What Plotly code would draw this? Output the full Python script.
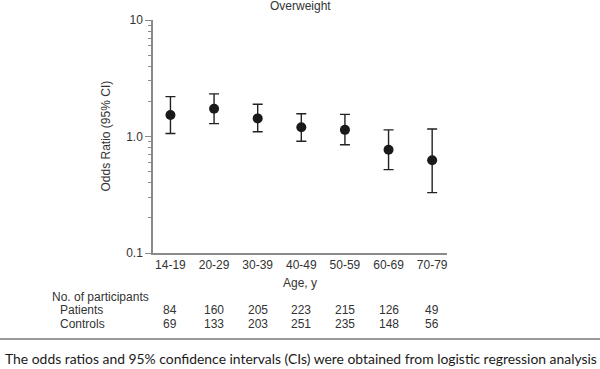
import plotly.graph_objects as go

categories = ["14-19", "20-29", "30-39", "40-49", "50-59", "60-69", "70-79"]
odds_ratio = [1.53, 1.73, 1.43, 1.20, 1.14, 0.77, 0.625]
ci_upper = [2.20, 2.32, 1.89, 1.57, 1.55, 1.14, 1.16]
ci_lower = [1.06, 1.29, 1.10, 0.91, 0.85, 0.52, 0.33]
patients = [84, 160, 205, 223, 215, 126, 49]
controls = [69, 133, 203, 251, 235, 148, 56]
ytick_vals = [0.1, 1, 10]
ytick_text = ["0.1", "1.0", "10"]
minor_vals = [0.2, 0.3, 0.4, 0.5, 0.6, 0.7, 0.8, 0.9, 2, 3, 4, 5, 6, 7, 8, 9]

W, H = 600, 369
L, R, T, B = 153, 153, 20, 116
PW, PH = W - L - R, H - T - B

def px_x(x):
    return (x - L) / PW

def px_y(y):
    return (H - B - y) / PH

FONT = "Liberation Sans, Arial, sans-serif"
TXT = "#333333"
AX = "#8a8a8a"

fig = go.Figure()
fig.add_trace(go.Scatter(
    x=categories, y=odds_ratio, mode="markers",
    marker=dict(size=10, color="#1a1a1a"),
    error_y=dict(type="data", symmetric=False,
                 array=[u - v for u, v in zip(ci_upper, odds_ratio)],
                 arrayminus=[v - l for v, l in zip(odds_ratio, ci_lower)],
                 color="#222222", thickness=1.4, width=5),
    showlegend=False,
))

fig.update_layout(
    width=W, height=H,
    margin=dict(l=L, r=R, t=T, b=B),
    paper_bgcolor="white", plot_bgcolor="white",
    font=dict(family=FONT, size=12, color=TXT),
    xaxis=dict(type="category", range=[-0.4, 6.34], showline=True,
               linecolor=AX, linewidth=1.5, ticks="", showgrid=False,
               zeroline=False, tickfont=dict(size=12, color=TXT)),
    yaxis=dict(type="log", range=[-1, 1], showline=True, linecolor=AX,
               linewidth=1.5, ticks="outside", ticklen=6, tickwidth=1.2,
               tickcolor=AX, tickvals=ytick_vals, ticktext=ytick_text,
               showgrid=False, zeroline=False,
               tickfont=dict(size=12, color=TXT),
               minor=dict(tickvals=minor_vals, ticks="outside", ticklen=3,
                          tickwidth=1.2, tickcolor=AX, showgrid=False)),
)

def note(text, x, y, xref="paper", xanchor="center", **kw):
    return dict(text=text, x=x, y=px_y(y), xref=xref, yref="paper",
                xanchor=xanchor, yanchor="middle", showarrow=False,
                font=kw.pop("font", dict(size=12, color=TXT)), **kw)

ann = []
ann.append(note("Overweight", 0.5, 6))
ann.append(note("Odds Ratio (95% CI)", px_x(105), 136.5, textangle=-90))
ann.append(note("Age, y", 0.5, 283))
ann.append(note("No. of participants", px_x(50), 297, xanchor="left"))
ann.append(note("Patients", px_x(58), 310, xanchor="left"))
ann.append(note("Controls", px_x(58), 323.5, xanchor="left"))
for c, p, k in zip(categories, patients, controls):
    ann.append(note(str(p), c, 310, xref="x"))
    ann.append(note(str(k), c, 323.5, xref="x"))
ann.append(note("The odds ratios and 95% confidence intervals (CIs) were obtained from logistic regression analysis",
                px_x(3), 358, xanchor="left",
                font=dict(family="Lato, Open Sans, sans-serif", size=13.9, color="#1a1a1a")))
fig.update_layout(annotations=ann)

fig.add_shape(type="line", xref="paper", yref="paper",
              x0=px_x(0), x1=px_x(600), y0=px_y(339), y1=px_y(339),
              line=dict(color="#999999", width=2))

fig.write_html("out.html", config={"displayModeBar": False},
               post_script="document.body.style.margin='0px';")
